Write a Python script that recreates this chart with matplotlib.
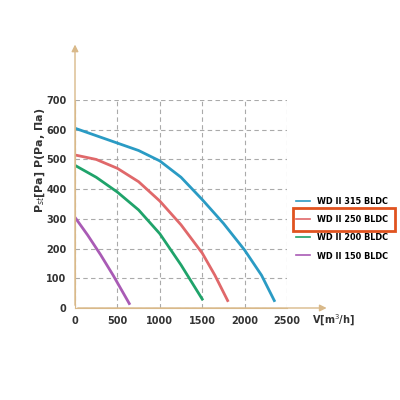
import matplotlib
matplotlib.use("Agg")
import matplotlib.pyplot as plt
import numpy as np

names = ["WD II 315 BLDC", "WD II 250 BLDC", "WD II 200 BLDC", "WD II 150 BLDC"]
colors = ["#2a9bc4", "#e0686a", "#1fa36a", "#a95bb5"]
q315 = [0, 250, 500, 750, 1000, 1250, 1500, 1750, 2000, 2200, 2350]
p315 = [605, 580, 555, 530, 495, 440, 365, 285, 195, 110, 25]
q250 = [0, 250, 500, 750, 1000, 1250, 1500, 1650, 1800]
p250 = [515, 500, 470, 425, 360, 280, 185, 110, 25]
q200 = [0, 250, 500, 750, 1000, 1250, 1500]
p200 = [480, 440, 390, 330, 250, 145, 30]
q150 = [0, 150, 300, 450, 640]
p150 = [305, 245, 180, 110, 15]
series = [(q315, p315), (q250, p250), (q200, p200), (q150, p150)]
xt = [0, 500, 1000, 1500, 2000, 2500]
yt = [0, 100, 200, 300, 400, 500, 600, 700]

fig = plt.figure(figsize=(4, 4), dpi=100)
ax = fig.add_axes([0.1875, 0.23, 0.53, 0.52])
tan = "#d9b98a"
for (q, p), c, n in zip(series, colors, names):
    ax.plot(q, p, color=c, lw=2, label=n)
ax.set_xlim(0, 2500); ax.set_ylim(0, 700)
ax.set_xticks(xt); ax.set_yticks(yt)
ax.grid(True, ls=(0, (4, 3)), color="#aaaaaa", lw=0.8)
for s in ["top", "right"]:
    ax.spines[s].set_visible(False)
for s in ["left", "bottom"]:
    ax.spines[s].set_color(tan)
ax.tick_params(colors="#333333", labelsize=7, length=0, pad=6)
for l in ax.get_xticklabels() + ax.get_yticklabels():
    l.set_fontweight("bold")
ax.annotate("", xy=(0, 1.28), xycoords="axes fraction", xytext=(0, 0),
            arrowprops=dict(arrowstyle="-|>", color=tan, lw=1), annotation_clip=False)
ax.annotate("", xy=(1.2, 0), xycoords="axes fraction", xytext=(0, 0),
            arrowprops=dict(arrowstyle="-|>", color=tan, lw=1), annotation_clip=False)
fig.text(0.1, 0.6, "P$_{st}$[Pa] P(Pa, Πa)", rotation=90, fontsize=8, fontweight="bold",
         ha="center", va="center", color="#333333")
fig.text(0.78, 0.19, "V[m$^3$/h]", fontsize=7, fontweight="bold", color="#333333")
leg = ax.legend(loc="center left", bbox_to_anchor=(1.02, 0.38), frameon=False,
                prop=dict(family="DejaVu Sans", stretch="condensed", size=6.5, weight="bold"),
                handlelength=1.6, handletextpad=0.8, labelspacing=1.0, borderpad=0)
for h in leg.get_lines():
    h.set_linewidth(1.2)
fig.patches.append(plt.Rectangle((0.732, 0.423), 0.255, 0.057, transform=fig.transFigure,
                                 fill=False, edgecolor="#e0531f", lw=2))
fig.savefig("out.png")
